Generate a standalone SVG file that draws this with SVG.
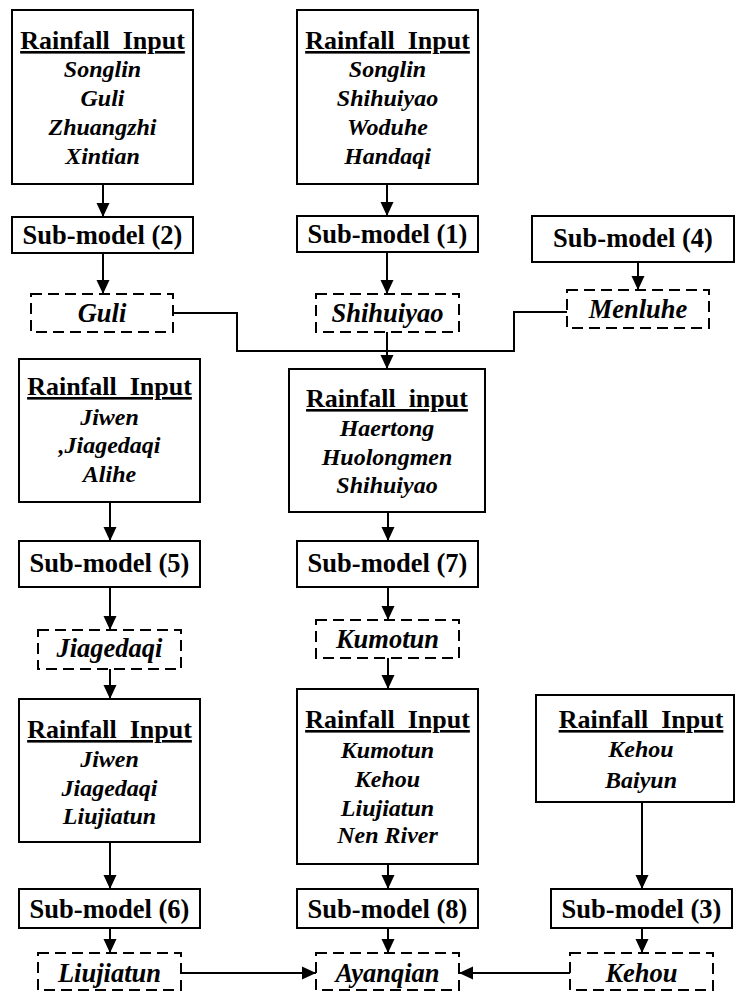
<svg xmlns="http://www.w3.org/2000/svg" width="736" height="992" viewBox="0 0 736 992">
<style>
.box{fill:#fff;stroke:#000;stroke-width:2}
.dash{fill:#fff;stroke:#000;stroke-width:2;stroke-dasharray:11,6}
.t{font-family:"Liberation Serif","Times New Roman",serif;font-weight:bold;text-anchor:middle;fill:#000}
.title{font-size:26px;text-decoration:underline}
.item{font-size:24px;font-style:italic}
.sm{font-size:26.5px}
.lbl{font-size:26.5px;font-style:italic}
.c{fill:none;stroke:#000;stroke-width:2}
</style>
<defs>
<marker id="ah" markerUnits="userSpaceOnUse" markerWidth="14" markerHeight="14" viewBox="0 0 14 14" refX="14" refY="7" orient="auto">
<path d="M0,0.5 L14,7 L0,13.5 z" fill="#000"/>
</marker>
</defs>
<rect width="736" height="992" fill="#fff"/>
<g id="connectors">
<line class="c" x1="103" y1="184" x2="103" y2="217" marker-end="url(#ah)"/>
<line class="c" x1="103" y1="253" x2="103" y2="294" marker-end="url(#ah)"/>
<line class="c" x1="387" y1="184" x2="387" y2="216" marker-end="url(#ah)"/>
<line class="c" x1="387" y1="252" x2="387" y2="294" marker-end="url(#ah)"/>
<line class="c" x1="638" y1="262" x2="638" y2="290" marker-end="url(#ah)"/>
<polyline class="c" points="173,313 237,313 237,351 514,351 514,312 567,312"/>
<line class="c" x1="387" y1="332" x2="387" y2="369" marker-end="url(#ah)"/>
<line class="c" x1="110" y1="502" x2="110" y2="541" marker-end="url(#ah)"/>
<line class="c" x1="110" y1="587" x2="110" y2="630" marker-end="url(#ah)"/>
<line class="c" x1="110" y1="669" x2="110" y2="699" marker-end="url(#ah)"/>
<line class="c" x1="110" y1="842" x2="110" y2="889" marker-end="url(#ah)"/>
<line class="c" x1="110" y1="928" x2="110" y2="953" marker-end="url(#ah)"/>
<line class="c" x1="388" y1="512" x2="388" y2="541" marker-end="url(#ah)"/>
<line class="c" x1="388" y1="587" x2="388" y2="620" marker-end="url(#ah)"/>
<line class="c" x1="388" y1="658" x2="388" y2="689" marker-end="url(#ah)"/>
<line class="c" x1="388" y1="864" x2="388" y2="889" marker-end="url(#ah)"/>
<line class="c" x1="388" y1="928" x2="388" y2="953" marker-end="url(#ah)"/>
<line class="c" x1="642" y1="802" x2="642" y2="889" marker-end="url(#ah)"/>
<line class="c" x1="642" y1="928" x2="642" y2="953" marker-end="url(#ah)"/>
<line class="c" x1="181" y1="973" x2="316" y2="973" marker-end="url(#ah)"/>
<line class="c" x1="570" y1="973" x2="459" y2="973" marker-end="url(#ah)"/>
</g>
<g id="rain2">
<rect class="box" x="12" y="10" width="181" height="174"/>
<text class="t title" x="102.5" y="49">Rainfall_Input</text>
<text class="t item" x="102.5" y="77">Songlin</text>
<text class="t item" x="102.5" y="106">Guli</text>
<text class="t item" x="102.5" y="135">Zhuangzhi</text>
<text class="t item" x="102.5" y="164">Xintian</text>
</g>
<g id="rain1">
<rect class="box" x="297" y="10" width="181" height="174"/>
<text class="t title" x="387.5" y="49">Rainfall_Input</text>
<text class="t item" x="387.5" y="77">Songlin</text>
<text class="t item" x="387.5" y="106">Shihuiyao</text>
<text class="t item" x="387.5" y="135">Woduhe</text>
<text class="t item" x="387.5" y="164">Handaqi</text>
</g>
<g id="sub2">
<rect class="box" x="12" y="217" width="181" height="36"/>
<text class="t sm" x="102.5" y="244">Sub-model (2)</text>
</g>
<g id="sub1">
<rect class="box" x="297" y="216" width="181" height="36"/>
<text class="t sm" x="387.5" y="243">Sub-model (1)</text>
</g>
<g id="sub4">
<rect class="box" x="532" y="216" width="202" height="46"/>
<text class="t sm" x="633" y="247">Sub-model (4)</text>
</g>
<g id="guli">
<rect class="dash" x="31" y="294" width="142" height="38"/>
<text class="t lbl" x="102" y="322">Guli</text>
</g>
<g id="shihuiyao">
<rect class="dash" x="316" y="294" width="143" height="38"/>
<text class="t lbl" x="387.5" y="322">Shihuiyao</text>
</g>
<g id="menluhe">
<rect class="dash" x="567" y="290" width="142" height="38"/>
<text class="t lbl" x="638" y="318">Menluhe</text>
</g>
<g id="rain5">
<rect class="box" x="19" y="359" width="181" height="143"/>
<text class="t title" x="109.5" y="395">Rainfall_Input</text>
<text class="t item" x="109.5" y="425">Jiwen</text>
<text class="t item" x="109.5" y="453">,Jiagedaqi</text>
<text class="t item" x="109.5" y="482">Alihe</text>
</g>
<g id="rain7">
<rect class="box" x="289" y="369" width="196" height="143"/>
<text class="t title" x="387" y="407">Rainfall_input</text>
<text class="t item" x="387" y="436">Haertong</text>
<text class="t item" x="387" y="465">Huolongmen</text>
<text class="t item" x="387" y="493">Shihuiyao</text>
</g>
<g id="sub5">
<rect class="box" x="19" y="541" width="181" height="46"/>
<text class="t sm" x="109.5" y="572">Sub-model (5)</text>
</g>
<g id="sub7">
<rect class="box" x="297" y="541" width="181" height="46"/>
<text class="t sm" x="387.5" y="572">Sub-model (7)</text>
</g>
<g id="jiagedaqi">
<rect class="dash" x="38" y="630" width="143" height="39"/>
<text class="t lbl" x="109.5" y="657">Jiagedaqi</text>
</g>
<g id="kumotun">
<rect class="dash" x="316" y="620" width="143" height="38"/>
<text class="t lbl" x="387.5" y="648">Kumotun</text>
</g>
<g id="rain6">
<rect class="box" x="19" y="699" width="181" height="143"/>
<text class="t title" x="109.5" y="738">Rainfall_Input</text>
<text class="t item" x="109.5" y="767">Jiwen</text>
<text class="t item" x="109.5" y="796">Jiagedaqi</text>
<text class="t item" x="109.5" y="824">Liujiatun</text>
</g>
<g id="rain8">
<rect class="box" x="297" y="689" width="181" height="175"/>
<text class="t title" x="387.5" y="728">Rainfall_Input</text>
<text class="t item" x="387.5" y="758">Kumotun</text>
<text class="t item" x="387.5" y="787">Kehou</text>
<text class="t item" x="387.5" y="816">Liujiatun</text>
<text class="t item" x="387.5" y="843">Nen River</text>
</g>
<g id="rain3">
<rect class="box" x="536" y="695" width="198" height="107"/>
<text class="t title" x="641" y="728">Rainfall_Input</text>
<text class="t item" x="641" y="757">Kehou</text>
<text class="t item" x="641" y="788">Baiyun</text>
</g>
<g id="sub6">
<rect class="box" x="19" y="889" width="181" height="39"/>
<text class="t sm" x="109.5" y="918">Sub-model (6)</text>
</g>
<g id="sub8">
<rect class="box" x="297" y="889" width="181" height="39"/>
<text class="t sm" x="387.5" y="918">Sub-model (8)</text>
</g>
<g id="sub3">
<rect class="box" x="551" y="889" width="181" height="39"/>
<text class="t sm" x="641.5" y="918">Sub-model (3)</text>
</g>
<g id="liujiatun">
<rect class="dash" x="38" y="953" width="143" height="37"/>
<text class="t lbl" x="109.5" y="982">Liujiatun</text>
</g>
<g id="ayanqian">
<rect class="dash" x="316" y="953" width="143" height="37"/>
<text class="t lbl" x="387.5" y="982">Ayanqian</text>
</g>
<g id="kehou">
<rect class="dash" x="570" y="953" width="143" height="37"/>
<text class="t lbl" x="641.5" y="982">Kehou</text>
</g>
</svg>
